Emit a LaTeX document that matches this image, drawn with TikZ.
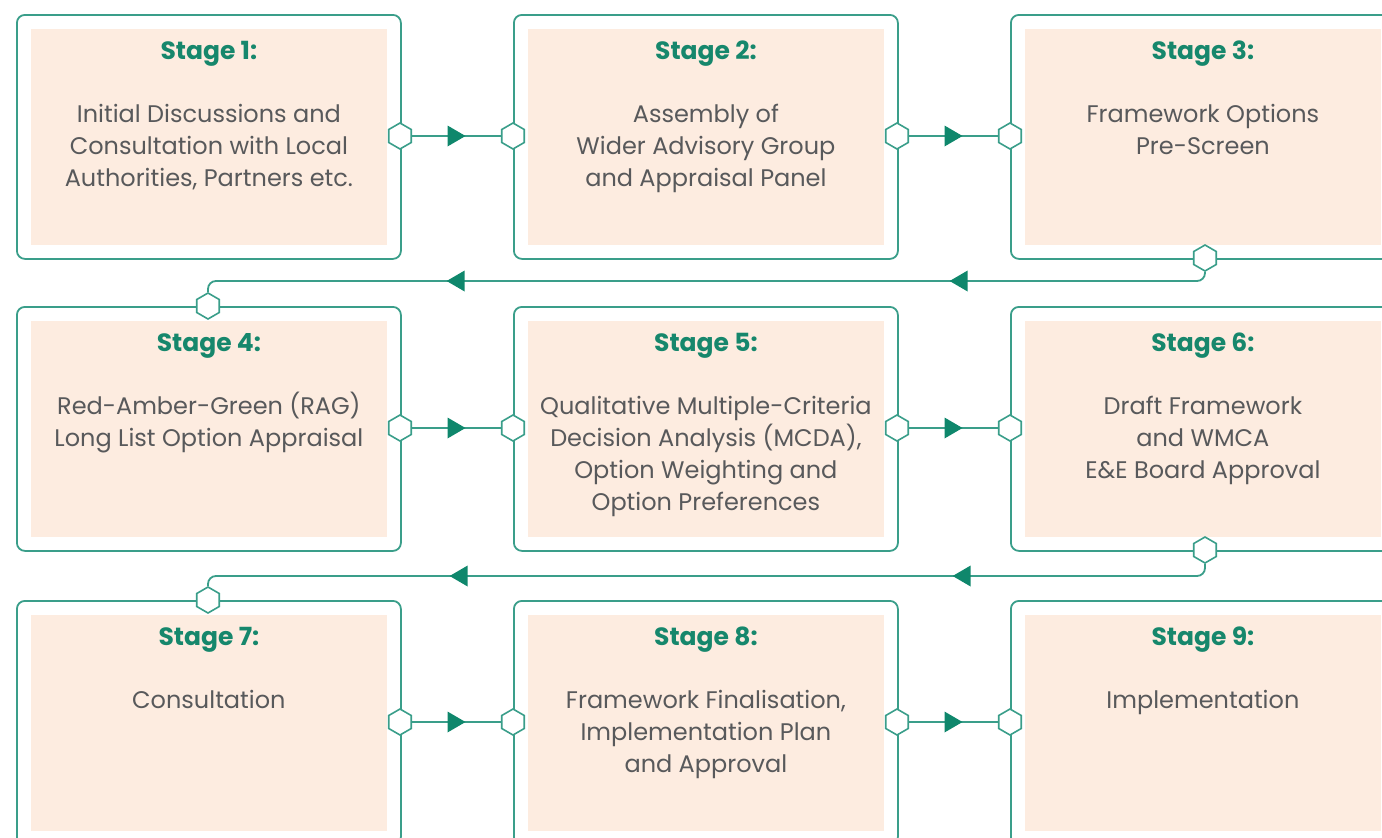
\documentclass[tikz,border=0pt]{standalone}
\usepackage{fontspec}
\setmainfont{Poppins}
\usetikzlibrary{shapes.geometric,decorations.markings}
\definecolor{lineC}{HTML}{3A9E8A}
\definecolor{arrC}{HTML}{0F876C}
\definecolor{peach}{HTML}{FDECE0}
\definecolor{titleC}{HTML}{16876C}
\definecolor{bodyC}{HTML}{58595B}
\begin{document}
\begin{tikzpicture}[x=1pt,y=-1pt,
  stagebox/.style={draw=lineC, line width=1.8pt, rounded corners=8pt, minimum width=384pt, minimum height=244pt, inner sep=0pt, anchor=north west},
  hexnode/.style={regular polygon, regular polygon sides=6, rotate=30, draw=lineC, fill=white, line width=1.6pt, minimum size=26pt, inner sep=0pt},
  conn/.style={draw=lineC, line width=1.8pt},
  titletext/.style={anchor=base, text=titleC, font=\fontsize{25}{32}\selectfont\bfseries},
  bodytext/.style={anchor=north, text=bodyC, align=center, inner sep=0pt, font=\fontsize{24}{32}\selectfont},
  arrowtip/.style={fill=arrC, sharp corners},
  midarrow/.style={postaction={decorate}, decoration={markings, mark=at position 0.5 with {\fill[arrowtip] (-9pt,-10.5pt) -- (9pt,0pt) -- (-9pt,10.5pt) -- cycle;}}},
  twoarrows/.style 2 args={postaction={decorate}, decoration={markings,
    mark=at position #1 with {\fill[arrowtip] (-9pt,-10.5pt) -- (9pt,0pt) -- (-9pt,10.5pt) -- cycle;},
    mark=at position #2 with {\fill[arrowtip] (-9pt,-10.5pt) -- (9pt,0pt) -- (-9pt,10.5pt) -- cycle;}}}
]
\useasboundingbox (0,0) rectangle (1382,838);
\clip (0,0) rectangle (1382,838);

% boxes
\foreach \i/\x/\y in {1/16/14, 2/513/14, 3/1010/14, 4/16/306, 5/513/306, 6/1010/306, 7/16/600, 8/513/600, 9/1010/600} {
  \node[stagebox] (b\i) at (\x,\y) {};
  \fill[peach] ([shift={(15,15)}]b\i.north west) rectangle ([shift={(-15,-15)}]b\i.south east);
  \node[titletext] (t\i) at ([yshift=-45pt]b\i.north) {Stage \i:};
}

% body texts
\newcommand{\firststrut}{\rule{0pt}{26pt}}
\node[bodytext] (d1) at ([yshift=-82pt]b1.north) {\firststrut Initial Discussions and\\Consultation with Local\\Authorities, Partners etc.};
\node[bodytext] (d2) at ([yshift=-82pt]b2.north) {\firststrut Assembly of\\Wider Advisory Group\\and Appraisal Panel};
\node[bodytext] (d3) at ([yshift=-82pt]b3.north) {\firststrut Framework Options\\Pre-Screen};
\node[bodytext] (d4) at ([yshift=-82pt]b4.north) {\firststrut Red-Amber-Green (RAG)\\Long List Option Appraisal};
\node[bodytext] (d5) at ([yshift=-82pt]b5.north) {\firststrut Qualitative Multiple-Criteria\\Decision Analysis (MCDA),\\Option Weighting and\\Option Preferences};
\node[bodytext] (d6) at ([yshift=-82pt]b6.north) {\firststrut Draft Framework\\and WMCA\\E\&E Board Approval};
\node[bodytext] (d7) at ([yshift=-82pt]b7.north) {\firststrut Consultation};
\node[bodytext] (d8) at ([yshift=-82pt]b8.north) {\firststrut Framework Finalisation,\\Implementation Plan\\and Approval};
\node[bodytext] (d9) at ([yshift=-82pt]b9.north) {\firststrut Implementation};

% hexagon ports (coordinates)
\coordinate (p1r) at (400,136);
\coordinate (p2l) at (513,136);
\coordinate (p2r) at (897,136);
\coordinate (p3l) at (1010,136);
\coordinate (p3b) at (1205,258);
\coordinate (p4t) at (208,306);
\coordinate (p4r) at (400,428);
\coordinate (p5l) at (513,428);
\coordinate (p5r) at (897,428);
\coordinate (p6l) at (1010,428);
\coordinate (p6b) at (1205,550);
\coordinate (p7t) at (208,600);
\coordinate (p7r) at (400,722);
\coordinate (p8l) at (513,722);
\coordinate (p8r) at (897,722);
\coordinate (p9l) at (1010,722);

\foreach \p in {p1r,p2l,p2r,p3l,p3b,p4t,p4r,p5l,p5r,p6l,p6b,p7t,p7r,p8l,p8r,p9l}
  \node[hexnode] (h\p) at (\p) {};

% row connectors
\draw[conn, midarrow] (hp1r) -- (hp2l);
\draw[conn, midarrow] (hp2r) -- (hp3l);
\draw[conn, midarrow] (hp4r) -- (hp5l);
\draw[conn, midarrow] (hp5r) -- (hp6l);
\draw[conn, midarrow] (hp7r) -- (hp8l);
\draw[conn, midarrow] (hp8r) -- (hp9l);

% wrap-around connectors
\coordinate (w1a) at (1205,281);
\coordinate (w1b) at (208,281);
\coordinate (w2a) at (1205,576);
\coordinate (w2b) at (208,576);
\draw[conn, rounded corners=8pt, twoarrows={252pt}{755pt}] (hp3b) -- (w1a) -- (w1b) -- (hp4t);
\draw[conn, rounded corners=8pt, twoarrows={252pt}{755pt}] (hp6b) -- (w2a) -- (w2b) -- (hp7t);
\end{tikzpicture}
\end{document}
